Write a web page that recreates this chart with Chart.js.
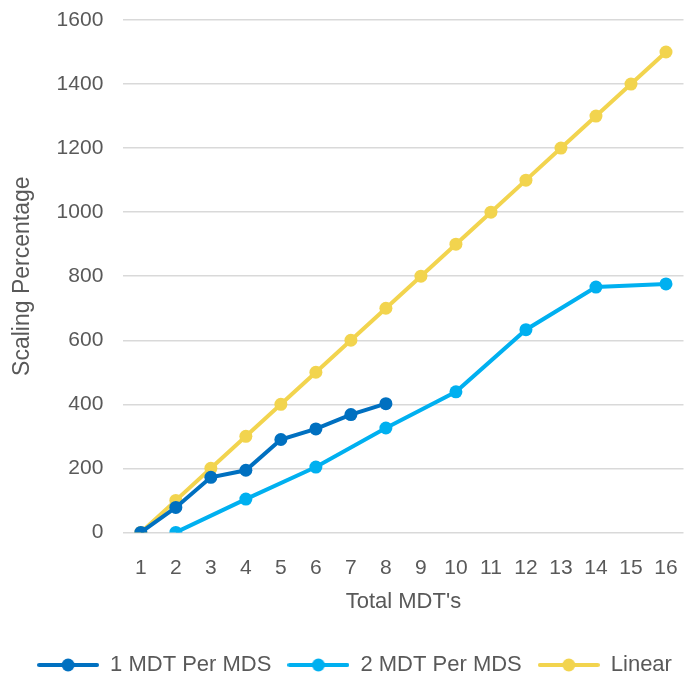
<!DOCTYPE html>
<html>
<head>
<meta charset="utf-8">
<script src="https://cdn.jsdelivr.net/npm/chart.js@4"></script>
<style>
  body { margin: 0; background: #fff; }
</style>
</head>
<body>
<canvas id="myChart" width="690" height="677"></canvas>
<script>
var labels = ["1","2","3","4","5","6","7","8","9","10","11","12","13","14","15","16"];
var oneMdt = [0, 78, 172, 194, 290, 323, 368, 402, null, null, null, null, null, null, null, null];
var twoMdt = [null, 0, null, 104, null, 204, null, 326, null, 439, null, 633, null, 766, null, 776];
var linear = [0, 100, 200, 300, 400, 500, 600, 700, 800, 900, 1000, 1100, 1200, 1300, 1400, 1500];
var seriesNames = ["1 MDT Per MDS", "2 MDT Per MDS", "Linear"];
var colors = ["#0070C0", "#00B0F0", "#F2D44E"];

var fontFam = "'Liberation Sans', Arial, sans-serif";
var tickColor = "#595959";

// legend marker: line with dot in the middle
function marker(color) {
    var c = document.createElement("canvas");
    c.width = 62; c.height = 14;
    var g = c.getContext("2d");
    g.strokeStyle = color;
    g.lineWidth = 4;
    g.lineCap = "round";
    g.beginPath();
    g.moveTo(2, 7); g.lineTo(60, 7);
    g.stroke();
    g.fillStyle = color;
    g.beginPath();
    g.arc(31, 7, 6.5, 0, Math.PI * 2);
    g.fill();
    return c;
}

function ds(name, data, color) {
    return {
        label: name,
        data: data,
        borderColor: color,
        backgroundColor: color,
        borderWidth: 4,
        pointRadius: 6.5,
        pointHoverRadius: 6.5,
        pointBorderWidth: 0,
        spanGaps: true,
        tension: 0
    };
}

const config = {
    type: 'line',
    data: {
        labels: labels,
        datasets: [
            ds(seriesNames[0], oneMdt, colors[0]),
            ds(seriesNames[1], twoMdt, colors[1]),
            ds(seriesNames[2], linear, colors[2])
        ]
    },
    options: {
        responsive: false,
        animation: false,
        layout: { padding: { left: 9, right: -10, top: 20, bottom: -9 } },
        plugins: {
            tooltip: { enabled: false },
            legend: {
                position: 'bottom',
                labels: {
                    usePointStyle: true,
                    pointStyleWidth: 62,
                    padding: 16,
                    color: tickColor,
                    font: { family: fontFam, size: 22 },
                    generateLabels: function(chart) {
                        return chart.data.datasets.map(function(d, i) {
                            return {
                                text: d.label,
                                fontColor: tickColor,
                                pointStyle: marker(d.borderColor),
                                lineWidth: 0,
                                datasetIndex: i,
                                hidden: false
                            };
                        });
                    }
                }
            }
        },
        scales: {
            x: {
                offset: true,
                afterFit: function(scale) { scale.paddingLeft = 0; scale.paddingRight = 0; },
                grid: { display: false },
                border: { display: false },
                ticks: { color: tickColor, font: { family: fontFam, size: 21 }, maxRotation: 0, autoSkip: false, padding: 15 },
                title: { display: true, text: "Total MDT's", color: tickColor, font: { family: fontFam, size: 22 }, padding: { top: -7, bottom: 23 } }
            },
            y: {
                min: 0,
                max: 1600,
                afterFit: function(scale) { scale.paddingTop = 0; },
                ticks: {
                    stepSize: 200, color: tickColor, font: { family: fontFam, size: 21 }, padding: 20,
                    callback: function(v) { return String(v); }
                },
                grid: { color: "#D9D9D9", lineWidth: 1.5, drawTicks: false },
                border: { display: false },
                title: { display: true, text: "Scaling Percentage", color: tickColor, font: { family: fontFam, size: 23 }, padding: { top: 0, bottom: 0 } }
            }
        }
    }
};

const ctx = document.getElementById('myChart').getContext('2d');
var myChart = new Chart(ctx, config);
</script>
</body>
</html>
